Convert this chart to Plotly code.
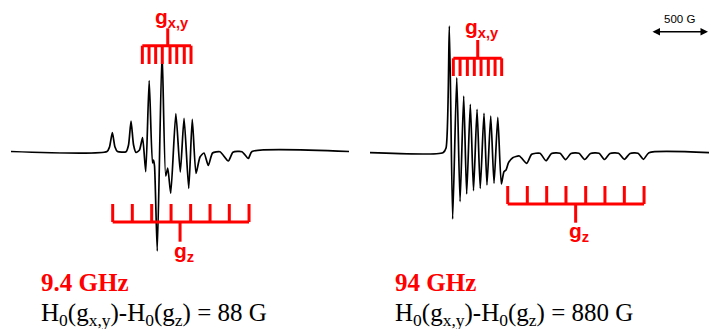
import plotly.graph_objects as go

# ---------------- data ----------------
# 9.4 GHz spectrum: field offset (G) and derivative signal (a.u.)
left_field_G = [0, 842, 864, 889, 912, 934, 1009, 1031, 1053, 1075, 1097, 1127, 1154,
                1182, 1212, 1241, 1250, 1259, 1283, 1325, 1357, 1375, 1401, 1446, 1485,
                1518, 1559, 1590, 1623, 1658, 1693, 1731, 1768, 1833, 1906, 1947, 2026,
                2082, 2114, 2965]
left_signal = [0, 0, 4.5, 18.8, 4.5, 0, -0.3, 6.5, 30.5, 6.5, -1, 1.5, 13.8,
               -20.2, 71, -11.5, -8.5, -14.5, -99.5, 99.8, -24.5, -16.5, -41.8, 37.8, -20.5,
               33.2, -36.8, 32.2, -21.8, -5.5, -1.5, -14, -1.5, -0.2, -9.5, -0.8, -0.2,
               -7, 0, 0]

# 94 GHz spectrum
right_field_G = [0, 640, 667, 696, 725, 761, 790, 822, 848, 880, 908, 939, 967, 1000,
                 1026, 1059, 1088, 1121, 1152, 1175, 1193, 1215, 1252, 1310, 1375, 1418,
                 1491, 1544, 1592, 1667, 1715, 1763, 1833, 1884, 1934, 2009, 2057, 2105,
                 2180, 2231, 2281, 2351, 2399, 2447, 2974]
right_signal = [0, 0, 4.7, 126.7, -66.3, 75, -49, 56.7, -41.3, 48.4, -38, 43.4, -35.6, 39.4,
                -32.3, 36.7, -30.6, 35.4, -31.3, -19, -17.3, -10, -5, -3.3, -10.6, -1.6,
                -0.6, -8, -0.8, -0.6, -7, -0.8, -0.6, -6.8, -0.8, -0.6, -6.8, -0.8,
                -0.6, -6.6, -0.8, -0.6, -6.6, 0, 0]

# hyperfine stick positions (G)
left_gxy_lines_G = [1152, 1211, 1269, 1327, 1395, 1454, 1520, 1579]
left_gxy_center_G = 1375
left_gz_lines_G = [892, 1064, 1234, 1404, 1576, 1746, 1915, 2088]
left_gz_center_G = 1483

right_gxy_lines_G = [731, 790, 854, 915, 974, 1038, 1097, 1155]
right_gxy_center_G = 945
right_gz_lines_G = [1208, 1380, 1550, 1719, 1892, 2061, 2231, 2404]
right_gz_center_G = 1804

scale_bar_G = 500
scale_bar_start_G = 2465

freq_labels = ["9.4 GHz", "94 GHz"]
delta_labels = ["88 G", "880 G"]

# ---------------- figure ----------------
W, H = 709, 329
GPX = 500 / 57.0  # gauss per pixel
RED = "#ff0000"

fig = go.Figure()

fig.add_trace(go.Scatter(x=left_field_G, y=left_signal, mode="lines",
                         line=dict(color="black", width=1.7, shape="spline", smoothing=0.6),
                         xaxis="x", yaxis="y", hoverinfo="skip", cliponaxis=False))
fig.add_trace(go.Scatter(x=right_field_G, y=right_signal, mode="lines",
                         line=dict(color="black", width=1.7, shape="spline", smoothing=0.6),
                         xaxis="x2", yaxis="y2", hoverinfo="skip", cliponaxis=False))


def comb(lines, center, bar, tip, stem, xa, ya):
    xs, ys = [lines[0], lines[-1], None], [bar, bar, None]
    for v in lines:
        xs += [v, v, None]
        ys += [bar, tip, None]
    xs += [center, center]
    ys += [bar, stem]
    fig.add_trace(go.Scatter(x=xs, y=ys, mode="lines",
                             line=dict(color=RED, width=3),
                             xaxis=xa, yaxis=ya, hoverinfo="skip", cliponaxis=False))


comb(left_gxy_lines_G, left_gxy_center_G, 105.8, 87.5, 123.2, "x", "y")
comb(left_gz_lines_G, left_gz_center_G, -70.5, -52.5, -90.2, "x", "y")
comb(right_gxy_lines_G, right_gxy_center_G, 94.4, 76.7, 112.7, "x2", "y2")
comb(right_gz_lines_G, right_gz_center_G, -51.3, -33.3, -70.0, "x2", "y2")

ann = []
gfont = dict(family="Liberation Sans, Arial", size=21, color=RED)
ann.append(dict(x=left_gxy_center_G + 4.5 * GPX, y=134.0, xref="x", yref="y",
                text="<b>g<sub>x,y</sub></b>", showarrow=False, font=gfont,
                xanchor="center", yanchor="middle"))
ann.append(dict(x=left_gz_center_G + 4.3 * GPX, y=-100.5, xref="x", yref="y",
                text="<b>g<sub>z</sub></b>", showarrow=False, font=gfont,
                xanchor="center", yanchor="middle"))
ann.append(dict(x=right_gxy_center_G + 3.8 * GPX, y=124.5, xref="x2", yref="y2",
                text="<b>g<sub>x,y</sub></b>", showarrow=False, font=gfont,
                xanchor="center", yanchor="middle"))
ann.append(dict(x=right_gz_center_G + 3.8 * GPX, y=-79.3, xref="x2", yref="y2",
                text="<b>g<sub>z</sub></b>", showarrow=False, font=gfont,
                xanchor="center", yanchor="middle"))

# scale bar
ann.append(dict(x=scale_bar_start_G + scale_bar_G, y=121, ax=scale_bar_start_G, ay=121,
                xref="x2", yref="y2", axref="x2", ayref="y2", text="",
                showarrow=True, arrowside="end+start", arrowhead=2, arrowsize=1,
                arrowwidth=1.5, arrowcolor="black"))
ann.append(dict(x=scale_bar_start_G + scale_bar_G / 2 + 2, y=133.7, xref="x2", yref="y2",
                text=f"{scale_bar_G} G", showarrow=False,
                font=dict(family="Liberation Sans, Arial", size=11.5, color="black"),
                xanchor="center", yanchor="middle"))

# bottom texts
for i, x0 in enumerate([39.3, 393.3]):
    ann.append(dict(x=x0 / W, y=1 - 282 / H, xref="paper", yref="paper",
                    text=f"<b>{freq_labels[i]}</b>", showarrow=False,
                    font=dict(family="Liberation Serif, Times New Roman", size=25, color=RED),
                    xanchor="left", yanchor="middle"))
    ann.append(dict(x=x0 / W, y=1 - 314 / H, xref="paper", yref="paper",
                    text="H<sub>0</sub>(g<sub>x,y</sub>)-H<sub>0</sub>(g<sub>z</sub>) = " + delta_labels[i],
                    showarrow=False,
                    font=dict(family="Liberation Serif, Times New Roman", size=25, color="black"),
                    xanchor="left", yanchor="middle"))

ax_common = dict(visible=False, showgrid=False, zeroline=False, fixedrange=True)
fig.update_layout(
    width=W, height=H, margin=dict(l=0, r=0, t=0, b=0),
    paper_bgcolor="white", plot_bgcolor="white", showlegend=False,
    xaxis=dict(domain=[0, 360 / W], range=[-11 * GPX, 349 * GPX], **ax_common),
    yaxis=dict(domain=[0, 1], range=[151.5 - H, 151.5], **ax_common),
    xaxis2=dict(domain=[360 / W, 1], range=[-10 * GPX, 339 * GPX], anchor="y2", **ax_common),
    yaxis2=dict(domain=[0, 1], range=[152.7 - H, 152.7], anchor="x2", **ax_common),
    annotations=ann,
)

fig.write_html(
    "out.html",
    config={"staticPlot": True},
    post_script="document.body.style.margin='0';document.body.style.padding='0';"
                "document.documentElement.style.overflow='hidden';",
)
